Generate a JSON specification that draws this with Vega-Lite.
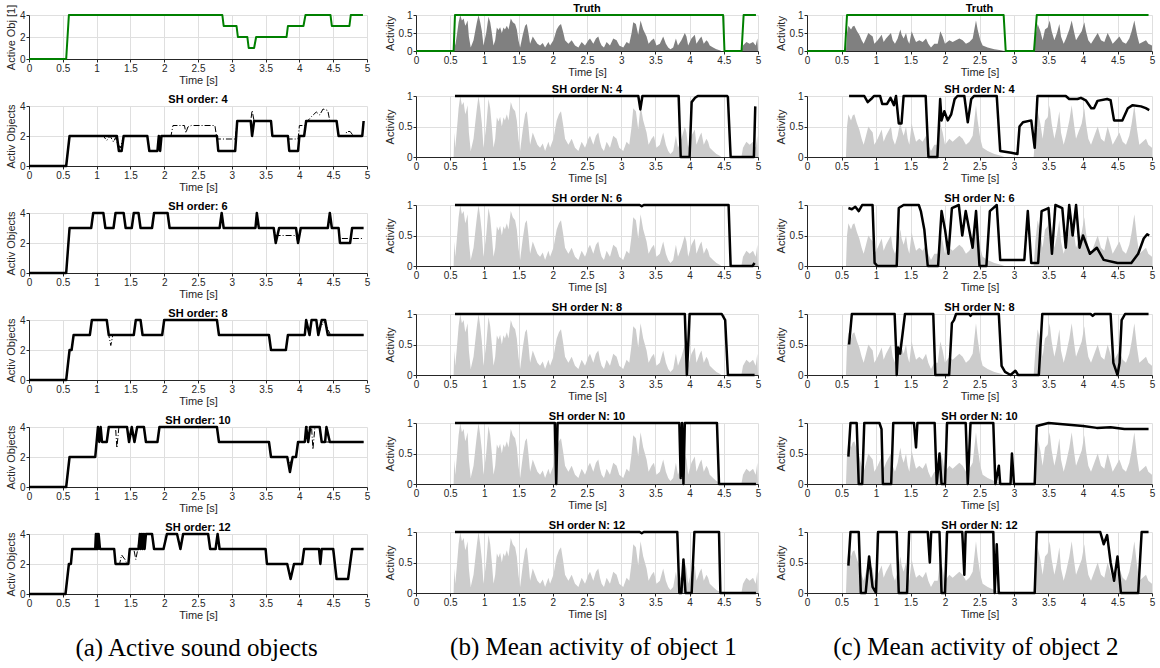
{
"$schema": "https://vega.github.io/schema/vega-lite/v6.json",
"padding": {"left": 5, "top": 3, "right": 4, "bottom": 4},
"background": "white",
"datasets": {
"env1": [{"t":0.55,"v":0},{"t":0.559,"v":0.4},{"t":0.574,"v":0.15},{"t":0.598,"v":0.45},{"t":0.623,"v":0.8},{"t":0.647,"v":1.0},{"t":0.671,"v":0.85},{"t":0.696,"v":0.9},{"t":0.72,"v":0.7},{"t":0.734,"v":0.75},{"t":0.754,"v":0.85},{"t":0.773,"v":0.4},{"t":0.8,"v":0.1},{"t":0.841,"v":0.3},{"t":0.87,"v":0.6},{"t":0.89,"v":0.8},{"t":0.914,"v":1.0},{"t":0.939,"v":0.8},{"t":0.963,"v":0.55},{"t":0.987,"v":0.15},{"t":1.026,"v":0.5},{"t":1.06,"v":0.95},{"t":1.085,"v":0.8},{"t":1.109,"v":0.5},{"t":1.133,"v":0.15},{"t":1.158,"v":0.3},{"t":1.182,"v":0.65},{"t":1.206,"v":0.58},{"t":1.23,"v":0.66},{"t":1.255,"v":0.5},{"t":1.279,"v":0.65},{"t":1.30,"v":0.6},{"t":1.328,"v":0.7},{"t":1.352,"v":0.6},{"t":1.386,"v":0.9},{"t":1.415,"v":0.8},{"t":1.449,"v":0.75},{"t":1.474,"v":0.6},{"t":1.498,"v":0.3},{"t":1.522,"v":0.1},{"t":1.561,"v":0.45},{"t":1.595,"v":0.7},{"t":1.62,"v":0.75},{"t":1.644,"v":0.5},{"t":1.668,"v":0.2},{"t":1.707,"v":0.4},{"t":1.741,"v":0.3},{"t":1.775,"v":0.2},{"t":1.814,"v":0.15},{"t":1.853,"v":0.22},{"t":1.887,"v":0.1},{"t":1.936,"v":0.25},{"t":1.96,"v":0.15},{"t":2.009,"v":0.3},{"t":2.057,"v":0.6},{"t":2.09,"v":0.7},{"t":2.12,"v":0.75},{"t":2.155,"v":0.5},{"t":2.179,"v":0.3},{"t":2.228,"v":0.2},{"t":2.276,"v":0.3},{"t":2.325,"v":0.15},{"t":2.374,"v":0.1},{"t":2.422,"v":0.25},{"t":2.471,"v":0.15},{"t":2.52,"v":0.3},{"t":2.544,"v":0.35},{"t":2.592,"v":0.2},{"t":2.631,"v":0.35},{"t":2.665,"v":0.4},{"t":2.69,"v":0.25},{"t":2.714,"v":0.15},{"t":2.748,"v":0.1},{"t":2.787,"v":0.25},{"t":2.836,"v":0.15},{"t":2.884,"v":0.35},{"t":2.933,"v":0.3},{"t":2.972,"v":0.15},{"t":3.03,"v":0.1},{"t":3.079,"v":0.25},{"t":3.118,"v":0.2},{"t":3.152,"v":0.5},{"t":3.176,"v":0.8},{"t":3.215,"v":0.75},{"t":3.249,"v":0.45},{"t":3.283,"v":0.85},{"t":3.322,"v":0.6},{"t":3.371,"v":0.4},{"t":3.4,"v":0.2},{"t":3.444,"v":0.3},{"t":3.478,"v":0.35},{"t":3.516,"v":0.15},{"t":3.565,"v":0.2},{"t":3.614,"v":0.4},{"t":3.653,"v":0.2},{"t":3.687,"v":0.1},{"t":3.72,"v":0.05},{"t":3.76,"v":0.1},{"t":3.80,"v":0.35},{"t":3.83,"v":0.15},{"t":3.88,"v":0.3},{"t":3.93,"v":0.5},{"t":3.954,"v":0.4},{"t":3.979,"v":0.15},{"t":4.027,"v":0.35},{"t":4.076,"v":0.45},{"t":4.1,"v":0.2},{"t":4.149,"v":0.35},{"t":4.173,"v":0.4},{"t":4.207,"v":0.2},{"t":4.246,"v":0.3},{"t":4.27,"v":0.25},{"t":4.295,"v":0.15},{"t":4.343,"v":0.1},{"t":4.392,"v":0.05},{"t":4.44,"v":0.02},{"t":4.465,"v":0},{"t":4.757,"v":0},{"t":4.781,"v":0.15},{"t":4.83,"v":0.25},{"t":4.878,"v":0.2},{"t":4.927,"v":0.25},{"t":4.966,"v":0.15},{"t":4.99,"v":0.35},{"t":5.0,"v":0}],
"env2": [{"t":0.565,"v":0},{"t":0.58,"v":0.5},{"t":0.6,"v":0.7},{"t":0.638,"v":0.6},{"t":0.662,"v":0.68},{"t":0.686,"v":0.7},{"t":0.725,"v":0.55},{"t":0.758,"v":0.45},{"t":0.792,"v":0.3},{"t":0.821,"v":0.2},{"t":0.855,"v":0.35},{"t":0.889,"v":0.5},{"t":0.918,"v":0.45},{"t":0.952,"v":0.4},{"t":0.976,"v":0.2},{"t":1.024,"v":0.3},{"t":1.082,"v":0.45},{"t":1.111,"v":0.25},{"t":1.145,"v":0.35},{"t":1.193,"v":0.45},{"t":1.217,"v":0.5},{"t":1.242,"v":0.3},{"t":1.275,"v":0.2},{"t":1.314,"v":0.35},{"t":1.353,"v":0.6},{"t":1.372,"v":0.45},{"t":1.401,"v":0.35},{"t":1.435,"v":0.5},{"t":1.459,"v":0.3},{"t":1.483,"v":0.2},{"t":1.517,"v":0.55},{"t":1.546,"v":0.4},{"t":1.58,"v":0.25},{"t":1.628,"v":0.3},{"t":1.676,"v":0.25},{"t":1.725,"v":0.35},{"t":1.758,"v":0.2},{"t":1.797,"v":0.1},{"t":1.845,"v":0.2},{"t":1.894,"v":0.2},{"t":1.932,"v":0.55},{"t":1.966,"v":0.4},{"t":2.0,"v":0.2},{"t":2.063,"v":0.3},{"t":2.111,"v":0.25},{"t":2.159,"v":0.3},{"t":2.208,"v":0.35},{"t":2.256,"v":0.3},{"t":2.304,"v":0.2},{"t":2.353,"v":0.25},{"t":2.401,"v":0.35},{"t":2.449,"v":0.85},{"t":2.473,"v":0.6},{"t":2.512,"v":0.3},{"t":2.546,"v":0.15},{"t":2.618,"v":0.1},{"t":2.715,"v":0.05},{"t":2.812,"v":0.02},{"t":2.86,"v":0},{"t":3.285,"v":0},{"t":3.31,"v":0.4},{"t":3.343,"v":0.75},{"t":3.382,"v":0.55},{"t":3.415,"v":0.3},{"t":3.449,"v":0.6},{"t":3.488,"v":0.65},{"t":3.517,"v":0.85},{"t":3.546,"v":0.55},{"t":3.585,"v":0.3},{"t":3.623,"v":0.5},{"t":3.657,"v":0.75},{"t":3.681,"v":0.4},{"t":3.72,"v":0.2},{"t":3.754,"v":0.35},{"t":3.802,"v":0.6},{"t":3.836,"v":0.85},{"t":3.874,"v":0.5},{"t":3.899,"v":0.3},{"t":3.932,"v":0.4},{"t":3.981,"v":0.55},{"t":4.019,"v":0.8},{"t":4.043,"v":0.55},{"t":4.077,"v":0.3},{"t":4.116,"v":0.2},{"t":4.164,"v":0.35},{"t":4.213,"v":0.5},{"t":4.261,"v":0.3},{"t":4.309,"v":0.25},{"t":4.357,"v":0.5},{"t":4.396,"v":0.35},{"t":4.43,"v":0.2},{"t":4.478,"v":0.3},{"t":4.527,"v":0.4},{"t":4.575,"v":0.25},{"t":4.623,"v":0.2},{"t":4.671,"v":0.35},{"t":4.705,"v":0.55},{"t":4.744,"v":0.85},{"t":4.783,"v":0.45},{"t":4.816,"v":0.2},{"t":4.865,"v":0.25},{"t":4.913,"v":0.3},{"t":4.947,"v":0.2},{"t":5.0,"v":0.15}],
"c_T": [{"t":0,"v":0},{"t":0.55,"v":0},{"t":0.59,"v":4},{"t":2.86,"v":4},{"t":2.88,"v":3},{"t":3.07,"v":3},{"t":3.09,"v":2},{"t":3.23,"v":2},{"t":3.25,"v":1},{"t":3.33,"v":1},{"t":3.36,"v":2},{"t":3.81,"v":2},{"t":3.83,"v":3},{"t":4.06,"v":3},{"t":4.09,"v":4},{"t":4.46,"v":4},{"t":4.48,"v":3},{"t":4.74,"v":3},{"t":4.76,"v":4},{"t":4.94,"v":4}],
"c_4e": [{"t":0,"v":0},{"t":0.55,"v":0},{"t":0.6,"v":2},{"t":1.3,"v":2},{"t":1.33,"v":1},{"t":1.37,"v":1},{"t":1.4,"v":2},{"t":1.75,"v":2},{"t":1.78,"v":1},{"t":1.9,"v":1},{"t":1.92,"v":2},{"t":1.94,"v":1},{"t":1.96,"v":2},{"t":2.78,"v":2},{"t":2.8,"v":1},{"t":3.05,"v":1},{"t":3.08,"v":3},{"t":3.28,"v":3},{"t":3.3,"v":2},{"t":3.33,"v":3},{"t":3.58,"v":3},{"t":3.6,"v":2},{"t":3.83,"v":2},{"t":3.85,"v":1},{"t":3.98,"v":1},{"t":4.0,"v":2},{"t":4.07,"v":2},{"t":4.1,"v":3},{"t":4.55,"v":3},{"t":4.58,"v":2},{"t":4.93,"v":2},{"t":4.95,"v":3}],
"c_4d": [{"t":0,"v":0},{"t":0.55,"v":0},{"t":0.6,"v":2},{"t":1.1,"v":2},{"t":1.15,"v":1.7},{"t":1.2,"v":2},{"t":1.25,"v":1.6},{"t":1.28,"v":1.9},{"t":1.3,"v":1.6},{"t":1.35,"v":1.2},{"t":1.4,"v":2},{"t":1.75,"v":2},{"t":1.78,"v":1},{"t":1.9,"v":1},{"t":1.93,"v":2},{"t":2.1,"v":2},{"t":2.13,"v":2.7},{"t":2.3,"v":2.7},{"t":2.32,"v":2.2},{"t":2.35,"v":2.6},{"t":2.4,"v":2.7},{"t":2.75,"v":2.7},{"t":2.78,"v":1.8},{"t":3.05,"v":1.8},{"t":3.08,"v":3},{"t":3.28,"v":3},{"t":3.3,"v":3.7},{"t":3.33,"v":3},{"t":3.58,"v":3},{"t":3.6,"v":2},{"t":3.8,"v":2},{"t":3.83,"v":1.8},{"t":3.98,"v":1.8},{"t":4.0,"v":2.7},{"t":4.08,"v":2.7},{"t":4.12,"v":3},{"t":4.18,"v":3.3},{"t":4.25,"v":3.6},{"t":4.3,"v":3.4},{"t":4.35,"v":3.8},{"t":4.42,"v":3.7},{"t":4.45,"v":3},{"t":4.55,"v":3},{"t":4.58,"v":2},{"t":4.68,"v":2},{"t":4.7,"v":2.3},{"t":4.75,"v":2.3},{"t":4.8,"v":2},{"t":4.93,"v":2},{"t":4.95,"v":3}],
"c_6e": [{"t":0,"v":0},{"t":0.55,"v":0},{"t":0.6,"v":3},{"t":0.92,"v":3},{"t":0.95,"v":4},{"t":1.1,"v":4},{"t":1.13,"v":3},{"t":1.25,"v":3},{"t":1.28,"v":4},{"t":1.4,"v":4},{"t":1.43,"v":3},{"t":1.52,"v":3},{"t":1.55,"v":4},{"t":1.62,"v":4},{"t":1.65,"v":3},{"t":1.82,"v":3},{"t":1.85,"v":4},{"t":2.05,"v":4},{"t":2.08,"v":3},{"t":2.82,"v":3},{"t":2.85,"v":4},{"t":2.88,"v":3},{"t":3.35,"v":3},{"t":3.37,"v":4},{"t":3.4,"v":3},{"t":3.62,"v":3},{"t":3.65,"v":2},{"t":3.7,"v":3},{"t":3.95,"v":3},{"t":3.98,"v":2},{"t":4.02,"v":3},{"t":4.42,"v":3},{"t":4.45,"v":4},{"t":4.48,"v":3},{"t":4.58,"v":3},{"t":4.6,"v":2},{"t":4.75,"v":2},{"t":4.78,"v":3},{"t":4.95,"v":3}],
"c_6d": [{"t":0,"v":0},{"t":0.55,"v":0},{"t":0.6,"v":3},{"t":0.92,"v":3},{"t":0.95,"v":4},{"t":1.1,"v":4},{"t":1.13,"v":3},{"t":1.25,"v":3},{"t":1.28,"v":4},{"t":1.4,"v":4},{"t":1.43,"v":3},{"t":1.52,"v":3},{"t":1.55,"v":4},{"t":1.62,"v":4},{"t":1.65,"v":3},{"t":1.82,"v":3},{"t":1.85,"v":4},{"t":2.05,"v":4},{"t":2.08,"v":3},{"t":2.82,"v":3},{"t":2.85,"v":4},{"t":2.88,"v":3},{"t":3.35,"v":3},{"t":3.37,"v":4},{"t":3.4,"v":3},{"t":3.62,"v":3},{"t":3.65,"v":2.5},{"t":3.95,"v":2.5},{"t":3.98,"v":2},{"t":4.02,"v":3},{"t":4.42,"v":3},{"t":4.45,"v":4},{"t":4.48,"v":3},{"t":4.58,"v":3},{"t":4.6,"v":2.3},{"t":4.95,"v":2.3}],
"c_8e": [{"t":0,"v":0},{"t":0.55,"v":0},{"t":0.6,"v":2},{"t":0.63,"v":2},{"t":0.66,"v":3},{"t":0.9,"v":3},{"t":0.93,"v":4},{"t":1.15,"v":4},{"t":1.18,"v":3},{"t":1.55,"v":3},{"t":1.58,"v":4},{"t":1.65,"v":4},{"t":1.68,"v":3},{"t":1.97,"v":3},{"t":2.0,"v":4},{"t":2.78,"v":4},{"t":2.81,"v":3},{"t":3.55,"v":3},{"t":3.58,"v":2},{"t":3.8,"v":2},{"t":3.83,"v":3},{"t":4.08,"v":3},{"t":4.1,"v":4},{"t":4.15,"v":3},{"t":4.18,"v":4},{"t":4.25,"v":4},{"t":4.28,"v":3},{"t":4.33,"v":4},{"t":4.38,"v":4},{"t":4.42,"v":3},{"t":4.95,"v":3}],
"c_8d": [{"t":0,"v":0},{"t":0.55,"v":0},{"t":0.6,"v":2},{"t":0.63,"v":2},{"t":0.66,"v":3},{"t":0.9,"v":3},{"t":0.93,"v":4},{"t":1.15,"v":4},{"t":1.18,"v":3},{"t":1.21,"v":2.3},{"t":1.24,"v":3},{"t":1.55,"v":3},{"t":1.58,"v":4},{"t":1.65,"v":4},{"t":1.68,"v":3},{"t":1.97,"v":3},{"t":2.0,"v":4},{"t":2.78,"v":4},{"t":2.81,"v":3},{"t":3.55,"v":3},{"t":3.58,"v":2},{"t":3.8,"v":2},{"t":3.83,"v":3},{"t":4.08,"v":3},{"t":4.1,"v":4},{"t":4.15,"v":3},{"t":4.18,"v":4},{"t":4.25,"v":4},{"t":4.28,"v":3},{"t":4.32,"v":3.6},{"t":4.38,"v":3.9},{"t":4.42,"v":3.4},{"t":4.46,"v":3},{"t":4.95,"v":3}],
"c_10e": [{"t":0,"v":0},{"t":0.55,"v":0},{"t":0.6,"v":2},{"t":0.98,"v":2},{"t":1.0,"v":3},{"t":1.02,"v":4},{"t":1.04,"v":3},{"t":1.06,"v":4},{"t":1.08,"v":3},{"t":1.15,"v":3},{"t":1.18,"v":4},{"t":1.45,"v":4},{"t":1.48,"v":3},{"t":1.52,"v":4},{"t":1.56,"v":3},{"t":1.6,"v":4},{"t":1.7,"v":4},{"t":1.73,"v":3},{"t":1.9,"v":3},{"t":1.93,"v":4},{"t":2.78,"v":4},{"t":2.81,"v":3},{"t":3.55,"v":3},{"t":3.58,"v":2},{"t":3.82,"v":2},{"t":3.86,"v":1},{"t":3.9,"v":2},{"t":3.95,"v":2},{"t":3.98,"v":3},{"t":4.08,"v":3},{"t":4.1,"v":4},{"t":4.13,"v":3},{"t":4.16,"v":4},{"t":4.3,"v":4},{"t":4.33,"v":3},{"t":4.38,"v":3},{"t":4.4,"v":4},{"t":4.45,"v":3},{"t":4.95,"v":3}],
"c_10d": [{"t":0,"v":0},{"t":0.55,"v":0},{"t":0.6,"v":2},{"t":0.98,"v":2},{"t":1.0,"v":3},{"t":1.02,"v":4},{"t":1.04,"v":3},{"t":1.06,"v":4},{"t":1.08,"v":3},{"t":1.15,"v":3},{"t":1.18,"v":4},{"t":1.28,"v":4},{"t":1.3,"v":2.6},{"t":1.33,"v":4},{"t":1.45,"v":4},{"t":1.48,"v":3},{"t":1.52,"v":4},{"t":1.56,"v":3},{"t":1.6,"v":4},{"t":1.7,"v":4},{"t":1.73,"v":3},{"t":1.9,"v":3},{"t":1.93,"v":4},{"t":2.78,"v":4},{"t":2.81,"v":3},{"t":3.55,"v":3},{"t":3.58,"v":2},{"t":3.82,"v":2},{"t":3.86,"v":1.5},{"t":3.9,"v":2},{"t":3.95,"v":2},{"t":3.98,"v":3},{"t":4.08,"v":3},{"t":4.1,"v":4},{"t":4.18,"v":4},{"t":4.2,"v":2.5},{"t":4.23,"v":4},{"t":4.3,"v":4},{"t":4.33,"v":3},{"t":4.95,"v":3}],
"c_12e": [{"t":0,"v":0},{"t":0.54,"v":0},{"t":0.59,"v":2},{"t":0.62,"v":2},{"t":0.64,"v":3},{"t":0.98,"v":3},{"t":0.99,"v":4},{"t":1.0,"v":3},{"t":1.01,"v":4},{"t":1.02,"v":3},{"t":1.03,"v":4},{"t":1.05,"v":3},{"t":1.26,"v":3},{"t":1.28,"v":2},{"t":1.47,"v":2},{"t":1.49,"v":3},{"t":1.62,"v":3},{"t":1.64,"v":4},{"t":1.65,"v":3},{"t":1.67,"v":4},{"t":1.68,"v":3},{"t":1.7,"v":4},{"t":1.71,"v":3},{"t":1.73,"v":4},{"t":1.82,"v":4},{"t":1.85,"v":3},{"t":1.99,"v":3},{"t":2.04,"v":4},{"t":2.19,"v":4},{"t":2.24,"v":3},{"t":2.28,"v":4},{"t":2.65,"v":4},{"t":2.68,"v":3},{"t":2.76,"v":3},{"t":2.79,"v":4},{"t":2.82,"v":3},{"t":3.5,"v":3},{"t":3.52,"v":2},{"t":3.82,"v":2},{"t":3.87,"v":1},{"t":3.92,"v":2},{"t":4.04,"v":2},{"t":4.07,"v":3},{"t":4.29,"v":3},{"t":4.31,"v":2},{"t":4.33,"v":3},{"t":4.5,"v":3},{"t":4.55,"v":1},{"t":4.72,"v":1},{"t":4.78,"v":3},{"t":4.95,"v":3}],
"c_12d": [{"t":0,"v":0},{"t":0.54,"v":0},{"t":0.59,"v":2},{"t":0.62,"v":2},{"t":0.64,"v":3},{"t":0.98,"v":3},{"t":1.05,"v":3},{"t":1.26,"v":3},{"t":1.28,"v":2},{"t":1.34,"v":2},{"t":1.37,"v":2.6},{"t":1.42,"v":2.3},{"t":1.45,"v":2},{"t":1.47,"v":2},{"t":1.49,"v":3},{"t":1.55,"v":3},{"t":1.58,"v":2.3},{"t":1.61,"v":3},{"t":1.64,"v":4},{"t":1.82,"v":4},{"t":1.85,"v":3},{"t":1.99,"v":3},{"t":2.04,"v":4},{"t":2.19,"v":4},{"t":2.24,"v":3},{"t":2.28,"v":4},{"t":2.65,"v":4},{"t":2.68,"v":3},{"t":3.5,"v":3},{"t":3.52,"v":2},{"t":3.82,"v":2},{"t":3.87,"v":1},{"t":3.92,"v":2},{"t":4.04,"v":2},{"t":4.07,"v":3},{"t":4.5,"v":3},{"t":4.55,"v":1},{"t":4.72,"v":1},{"t":4.78,"v":3},{"t":4.95,"v":3}],
"b_T": [{"t":0,"v":0},{"t":0.55,"v":0},{"t":0.57,"v":1},{"t":4.49,"v":1},{"t":4.51,"v":0},{"t":4.76,"v":0},{"t":4.79,"v":1},{"t":4.97,"v":1}],
"b_4": [{"t":0.57,"v":1},{"t":3.25,"v":1},{"t":3.28,"v":0.78},{"t":3.31,"v":1},{"t":3.84,"v":1},{"t":3.87,"v":0},{"t":4.0,"v":0},{"t":4.03,"v":0.9},{"t":4.08,"v":0.97},{"t":4.12,"v":1},{"t":4.55,"v":1},{"t":4.56,"v":0.98},{"t":4.6,"v":0},{"t":4.94,"v":0},{"t":4.96,"v":0.83}],
"b_6": [{"t":0.57,"v":1},{"t":3.27,"v":1},{"t":3.3,"v":0.98},{"t":3.33,"v":1},{"t":4.57,"v":1},{"t":4.6,"v":0},{"t":4.92,"v":0},{"t":4.95,"v":0.05}],
"b_8": [{"t":0.57,"v":1},{"t":3.93,"v":1},{"t":3.96,"v":0},{"t":4.0,"v":1},{"t":4.47,"v":1},{"t":4.52,"v":0.9},{"t":4.56,"v":0},{"t":4.95,"v":0}],
"b_10": [{"t":0.57,"v":1},{"t":2.03,"v":1},{"t":2.05,"v":0},{"t":2.07,"v":1},{"t":3.85,"v":1},{"t":3.87,"v":0.1},{"t":3.89,"v":1},{"t":3.91,"v":0},{"t":3.93,"v":1},{"t":4.4,"v":1},{"t":4.43,"v":0},{"t":4.97,"v":0}],
"b_12": [{"t":0.57,"v":1},{"t":3.27,"v":1},{"t":3.3,"v":0.98},{"t":3.33,"v":1},{"t":3.82,"v":1},{"t":3.85,"v":0},{"t":3.88,"v":0},{"t":3.91,"v":0.55},{"t":3.94,"v":0},{"t":4.03,"v":0},{"t":4.07,"v":1},{"t":4.43,"v":1},{"t":4.45,"v":0},{"t":4.97,"v":0}],
"o_T": [{"t":0,"v":0},{"t":0.55,"v":0},{"t":0.58,"v":1},{"t":2.85,"v":1},{"t":2.88,"v":0},{"t":3.29,"v":0},{"t":3.33,"v":1},{"t":4.95,"v":1}],
"o_4": [{"t":0.61,"v":1},{"t":0.83,"v":1},{"t":0.88,"v":0.9},{"t":0.93,"v":0.95},{"t":0.97,"v":1},{"t":1.06,"v":1},{"t":1.09,"v":0.87},{"t":1.16,"v":0.87},{"t":1.21,"v":0.97},{"t":1.26,"v":0.85},{"t":1.29,"v":1},{"t":1.33,"v":0.55},{"t":1.37,"v":0.55},{"t":1.4,"v":1},{"t":1.72,"v":1},{"t":1.76,"v":0},{"t":1.89,"v":0},{"t":1.93,"v":0.95},{"t":1.95,"v":0.6},{"t":1.99,"v":0.75},{"t":2.04,"v":0.6},{"t":2.09,"v":0.7},{"t":2.14,"v":0.95},{"t":2.18,"v":1},{"t":2.28,"v":1},{"t":2.33,"v":0.57},{"t":2.38,"v":0.95},{"t":2.42,"v":1},{"t":2.75,"v":1},{"t":2.8,"v":0.1},{"t":2.96,"v":0.07},{"t":3.05,"v":0.05},{"t":3.08,"v":0.5},{"t":3.13,"v":0.57},{"t":3.25,"v":0.6},{"t":3.3,"v":0.15},{"t":3.34,"v":1},{"t":3.75,"v":1},{"t":3.8,"v":0.95},{"t":3.92,"v":0.95},{"t":3.97,"v":0.97},{"t":4.04,"v":0.93},{"t":4.12,"v":0.8},{"t":4.16,"v":0.8},{"t":4.21,"v":0.92},{"t":4.35,"v":0.95},{"t":4.4,"v":0.93},{"t":4.45,"v":0.6},{"t":4.57,"v":0.6},{"t":4.65,"v":0.8},{"t":4.72,"v":0.85},{"t":4.84,"v":0.83},{"t":4.91,"v":0.8},{"t":4.96,"v":0.77}],
"o_6": [{"t":0.6,"v":0.95},{"t":0.65,"v":0.93},{"t":0.7,"v":0.97},{"t":0.75,"v":0.9},{"t":0.8,"v":1},{"t":0.95,"v":1},{"t":0.98,"v":0.05},{"t":1.02,"v":0},{"t":1.3,"v":0},{"t":1.33,"v":0.95},{"t":1.4,"v":1},{"t":1.62,"v":1},{"t":1.65,"v":0.9},{"t":1.7,"v":0.6},{"t":1.75,"v":0},{"t":1.9,"v":0},{"t":1.95,"v":0.9},{"t":2.0,"v":0.6},{"t":2.05,"v":0.2},{"t":2.1,"v":0.95},{"t":2.2,"v":1},{"t":2.25,"v":0.5},{"t":2.3,"v":0.9},{"t":2.4,"v":0.3},{"t":2.45,"v":0.9},{"t":2.5,"v":0},{"t":2.6,"v":0},{"t":2.65,"v":0.9},{"t":2.75,"v":1},{"t":2.8,"v":0.1},{"t":3.15,"v":0.1},{"t":3.2,"v":0.9},{"t":3.25,"v":0.05},{"t":3.35,"v":0.05},{"t":3.4,"v":0.9},{"t":3.5,"v":0.95},{"t":3.55,"v":0.2},{"t":3.6,"v":1},{"t":3.7,"v":0.95},{"t":3.75,"v":0.3},{"t":3.8,"v":1},{"t":3.85,"v":0.5},{"t":3.9,"v":1},{"t":3.95,"v":0.3},{"t":4.0,"v":0.5},{"t":4.1,"v":0.2},{"t":4.2,"v":0.3},{"t":4.3,"v":0.1},{"t":4.5,"v":0.05},{"t":4.7,"v":0.05},{"t":4.8,"v":0.2},{"t":4.88,"v":0.45},{"t":4.93,"v":0.52},{"t":4.96,"v":0.5}],
"o_8": [{"t":0.61,"v":0.5},{"t":0.65,"v":1},{"t":1.27,"v":1},{"t":1.29,"v":0.45},{"t":1.3,"v":0},{"t":1.32,"v":0.45},{"t":1.35,"v":0.35},{"t":1.42,"v":1},{"t":1.83,"v":1},{"t":1.86,"v":0},{"t":2.06,"v":0},{"t":2.1,"v":0.85},{"t":2.13,"v":0.9},{"t":2.16,"v":1},{"t":2.35,"v":1},{"t":2.37,"v":0.97},{"t":2.39,"v":1},{"t":2.78,"v":1},{"t":2.82,"v":0.15},{"t":2.87,"v":0.05},{"t":2.95,"v":0},{"t":3.02,"v":0.07},{"t":3.06,"v":0},{"t":3.36,"v":0},{"t":3.41,"v":1},{"t":4.11,"v":1},{"t":4.14,"v":0.97},{"t":4.17,"v":1},{"t":4.4,"v":1},{"t":4.44,"v":0.2},{"t":4.47,"v":0.1},{"t":4.5,"v":0},{"t":4.53,"v":0.2},{"t":4.56,"v":0.9},{"t":4.61,"v":1},{"t":4.95,"v":1}],
"o_10": [{"t":0.6,"v":0.45},{"t":0.63,"v":1},{"t":0.72,"v":1},{"t":0.75,"v":0},{"t":0.8,"v":0},{"t":0.83,"v":1},{"t":1.05,"v":1},{"t":1.08,"v":0.9},{"t":1.1,"v":0},{"t":1.22,"v":0},{"t":1.25,"v":1},{"t":1.55,"v":1},{"t":1.58,"v":0.6},{"t":1.6,"v":1},{"t":1.85,"v":1},{"t":1.88,"v":0},{"t":1.92,"v":0.5},{"t":1.95,"v":0},{"t":2.0,"v":0},{"t":2.03,"v":1},{"t":2.3,"v":1},{"t":2.33,"v":0},{"t":2.37,"v":1},{"t":2.7,"v":1},{"t":2.73,"v":0},{"t":2.78,"v":0.3},{"t":2.8,"v":0},{"t":2.95,"v":0},{"t":2.97,"v":0.5},{"t":3.0,"v":0},{"t":3.3,"v":0},{"t":3.33,"v":0.95},{"t":3.5,"v":1},{"t":4.0,"v":0.95},{"t":4.2,"v":0.92},{"t":4.4,"v":0.93},{"t":4.6,"v":0.9},{"t":4.95,"v":0.9}],
"o_12": [{"t":0.6,"v":0.45},{"t":0.63,"v":1},{"t":0.75,"v":1},{"t":0.78,"v":0},{"t":0.85,"v":0},{"t":0.9,"v":0.6},{"t":0.95,"v":0.1},{"t":1.0,"v":0},{"t":1.03,"v":1},{"t":1.3,"v":1},{"t":1.33,"v":0},{"t":1.45,"v":0},{"t":1.48,"v":1},{"t":1.75,"v":1},{"t":1.78,"v":0.5},{"t":1.8,"v":1},{"t":1.92,"v":1},{"t":1.95,"v":0},{"t":2.0,"v":0},{"t":2.03,"v":1},{"t":2.25,"v":1},{"t":2.28,"v":0.3},{"t":2.3,"v":1},{"t":2.7,"v":1},{"t":2.72,"v":0},{"t":2.75,"v":0.8},{"t":2.78,"v":0},{"t":3.3,"v":0},{"t":3.33,"v":1},{"t":4.25,"v":1},{"t":4.3,"v":0.8},{"t":4.35,"v":0.95},{"t":4.4,"v":0.5},{"t":4.45,"v":0.2},{"t":4.5,"v":0.6},{"t":4.55,"v":0},{"t":4.8,"v":0},{"t":4.85,"v":1},{"t":4.95,"v":1}]
},
"hconcat": [
{"vconcat": [
  {"width": 338, "height": 44, "data": {"name": "c_T"}, "mark": {"type": "line", "color": "#008000", "strokeWidth": 2},
   "encoding": {"x": {"field": "t", "type": "quantitative", "scale": {"domain": [0,5]}, "axis": {"values": [0,0.5,1,1.5,2,2.5,3,3.5,4,4.5,5], "format": "~g", "title": "Time [s]"}},
                "y": {"field": "v", "type": "quantitative", "scale": {"domain": [0,4]}, "axis": {"values": [0,2,4], "title": "Active Obj [1]"}}}},
  {"vconcat": [
    {"width": 338, "height": 60, "title": "SH order: 4",
     "encoding": {"x": {"field": "t", "type": "quantitative", "scale": {"domain": [0,5]}, "axis": {"values": [0,0.5,1,1.5,2,2.5,3,3.5,4,4.5,5], "format": "~g", "title": "Time [s]"}},
                  "y": {"field": "v", "type": "quantitative", "scale": {"domain": [0,4]}, "axis": {"values": [0,2,4], "title": "Activ Objects"}}},
     "layer": [{"data": {"name": "c_4d"}, "mark": {"type": "line", "color": "black", "strokeWidth": 1, "strokeDash": [6,2,1,2]}},
               {"data": {"name": "c_4e"}, "mark": {"type": "line", "color": "black", "strokeWidth": 2.5}}]},
    {"width": 338, "height": 60, "title": "SH order: 6",
     "encoding": {"x": {"field": "t", "type": "quantitative", "scale": {"domain": [0,5]}, "axis": {"values": [0,0.5,1,1.5,2,2.5,3,3.5,4,4.5,5], "format": "~g", "title": "Time [s]"}},
                  "y": {"field": "v", "type": "quantitative", "scale": {"domain": [0,4]}, "axis": {"values": [0,2,4], "title": "Activ Objects"}}},
     "layer": [{"data": {"name": "c_6d"}, "mark": {"type": "line", "color": "black", "strokeWidth": 1, "strokeDash": [6,2,1,2]}},
               {"data": {"name": "c_6e"}, "mark": {"type": "line", "color": "black", "strokeWidth": 2.5}}]},
    {"width": 338, "height": 60, "title": "SH order: 8",
     "encoding": {"x": {"field": "t", "type": "quantitative", "scale": {"domain": [0,5]}, "axis": {"values": [0,0.5,1,1.5,2,2.5,3,3.5,4,4.5,5], "format": "~g", "title": "Time [s]"}},
                  "y": {"field": "v", "type": "quantitative", "scale": {"domain": [0,4]}, "axis": {"values": [0,2,4], "title": "Activ Objects"}}},
     "layer": [{"data": {"name": "c_8d"}, "mark": {"type": "line", "color": "black", "strokeWidth": 1, "strokeDash": [6,2,1,2]}},
               {"data": {"name": "c_8e"}, "mark": {"type": "line", "color": "black", "strokeWidth": 2.5}}]},
    {"width": 338, "height": 60, "title": "SH order: 10",
     "encoding": {"x": {"field": "t", "type": "quantitative", "scale": {"domain": [0,5]}, "axis": {"values": [0,0.5,1,1.5,2,2.5,3,3.5,4,4.5,5], "format": "~g", "title": "Time [s]"}},
                  "y": {"field": "v", "type": "quantitative", "scale": {"domain": [0,4]}, "axis": {"values": [0,2,4], "title": "Activ Objects"}}},
     "layer": [{"data": {"name": "c_10d"}, "mark": {"type": "line", "color": "black", "strokeWidth": 1, "strokeDash": [6,2,1,2]}},
               {"data": {"name": "c_10e"}, "mark": {"type": "line", "color": "black", "strokeWidth": 2.5}}]},
    {"width": 338, "height": 60, "title": "SH order: 12",
     "encoding": {"x": {"field": "t", "type": "quantitative", "scale": {"domain": [0,5]}, "axis": {"values": [0,0.5,1,1.5,2,2.5,3,3.5,4,4.5,5], "format": "~g", "title": "Time [s]"}},
                  "y": {"field": "v", "type": "quantitative", "scale": {"domain": [0,4]}, "axis": {"values": [0,2,4], "title": "Activ Objects"}}},
     "layer": [{"data": {"name": "c_12d"}, "mark": {"type": "line", "color": "black", "strokeWidth": 1, "strokeDash": [6,2,1,2]}},
               {"data": {"name": "c_12e"}, "mark": {"type": "line", "color": "black", "strokeWidth": 2.5}}]}
  ], "spacing": 47, "bounds": "flush"}
 ], "spacing": 9,
 "title": {"text": "(a) Active sound objects", "orient": "bottom", "anchor": "middle", "frame": "bounds", "dx": 9, "font": "Liberation Serif", "fontSize": 25, "fontWeight": "normal", "offset": 16, "color": "black"}},
{"vconcat": [
  {"width": 342, "height": 36, "title": "Truth",
   "encoding": {"x": {"field": "t", "type": "quantitative", "scale": {"domain": [0,5]}, "axis": {"values": [0,0.5,1,1.5,2,2.5,3,3.5,4,4.5,5], "format": "~g", "title": "Time [s]"}},
                "y": {"field": "v", "type": "quantitative", "scale": {"domain": [0,1]}, "axis": {"values": [0,0.5,1], "format": "~g", "title": "Activity"}}},
   "layer": [{"data": {"name": "env1"}, "mark": {"type": "area", "color": "#808080"}},
             {"data": {"name": "b_T"}, "mark": {"type": "line", "color": "#008000", "strokeWidth": 2}}]},
  {"vconcat": [
    {"width": 342, "height": 61, "title": "SH order N: 4",
     "encoding": {"x": {"field": "t", "type": "quantitative", "scale": {"domain": [0,5]}, "axis": {"values": [0,0.5,1,1.5,2,2.5,3,3.5,4,4.5,5], "format": "~g", "title": "Time [s]"}},
                  "y": {"field": "v", "type": "quantitative", "scale": {"domain": [0,1]}, "axis": {"values": [0,0.5,1], "format": "~g", "title": "Activity"}}},
     "layer": [{"data": {"name": "env1"}, "mark": {"type": "area", "color": "#cccccc"}},
               {"data": {"name": "b_4"}, "mark": {"type": "line", "color": "black", "strokeWidth": 2.5}}]},
    {"width": 342, "height": 61, "title": "SH order N: 6",
     "encoding": {"x": {"field": "t", "type": "quantitative", "scale": {"domain": [0,5]}, "axis": {"values": [0,0.5,1,1.5,2,2.5,3,3.5,4,4.5,5], "format": "~g", "title": "Time [s]"}},
                  "y": {"field": "v", "type": "quantitative", "scale": {"domain": [0,1]}, "axis": {"values": [0,0.5,1], "format": "~g", "title": "Activity"}}},
     "layer": [{"data": {"name": "env1"}, "mark": {"type": "area", "color": "#cccccc"}},
               {"data": {"name": "b_6"}, "mark": {"type": "line", "color": "black", "strokeWidth": 2.5}}]},
    {"width": 342, "height": 61, "title": "SH order N: 8",
     "encoding": {"x": {"field": "t", "type": "quantitative", "scale": {"domain": [0,5]}, "axis": {"values": [0,0.5,1,1.5,2,2.5,3,3.5,4,4.5,5], "format": "~g", "title": "Time [s]"}},
                  "y": {"field": "v", "type": "quantitative", "scale": {"domain": [0,1]}, "axis": {"values": [0,0.5,1], "format": "~g", "title": "Activity"}}},
     "layer": [{"data": {"name": "env1"}, "mark": {"type": "area", "color": "#cccccc"}},
               {"data": {"name": "b_8"}, "mark": {"type": "line", "color": "black", "strokeWidth": 2.5}}]},
    {"width": 342, "height": 61, "title": "SH order N: 10",
     "encoding": {"x": {"field": "t", "type": "quantitative", "scale": {"domain": [0,5]}, "axis": {"values": [0,0.5,1,1.5,2,2.5,3,3.5,4,4.5,5], "format": "~g", "title": "Time [s]"}},
                  "y": {"field": "v", "type": "quantitative", "scale": {"domain": [0,1]}, "axis": {"values": [0,0.5,1], "format": "~g", "title": "Activity"}}},
     "layer": [{"data": {"name": "env1"}, "mark": {"type": "area", "color": "#cccccc"}},
               {"data": {"name": "b_10"}, "mark": {"type": "line", "color": "black", "strokeWidth": 2.5}}]},
    {"width": 342, "height": 61, "title": "SH order N: 12",
     "encoding": {"x": {"field": "t", "type": "quantitative", "scale": {"domain": [0,5]}, "axis": {"values": [0,0.5,1,1.5,2,2.5,3,3.5,4,4.5,5], "format": "~g", "title": "Time [s]"}},
                  "y": {"field": "v", "type": "quantitative", "scale": {"domain": [0,1]}, "axis": {"values": [0,0.5,1], "format": "~g", "title": "Activity"}}},
     "layer": [{"data": {"name": "env1"}, "mark": {"type": "area", "color": "#cccccc"}},
               {"data": {"name": "b_12"}, "mark": {"type": "line", "color": "black", "strokeWidth": 2.5}}]}
  ], "spacing": 48, "bounds": "flush"}
 ], "spacing": 7,
 "title": {"text": "(b) Mean activity of object 1", "orient": "bottom", "anchor": "middle", "frame": "bounds", "dx": 21, "font": "Liberation Serif", "fontSize": 25, "fontWeight": "normal", "offset": 16, "color": "black"}},
{"vconcat": [
  {"width": 345, "height": 36, "title": "Truth",
   "encoding": {"x": {"field": "t", "type": "quantitative", "scale": {"domain": [0,5]}, "axis": {"values": [0,0.5,1,1.5,2,2.5,3,3.5,4,4.5,5], "format": "~g", "title": "Time [s]"}},
                "y": {"field": "v", "type": "quantitative", "scale": {"domain": [0,1]}, "axis": {"values": [0,0.5,1], "format": "~g", "title": "Activity"}}},
   "layer": [{"data": {"name": "env2"}, "mark": {"type": "area", "color": "#808080"}},
             {"data": {"name": "o_T"}, "mark": {"type": "line", "color": "#008000", "strokeWidth": 2}}]},
  {"vconcat": [
    {"width": 345, "height": 61, "title": "SH order N: 4",
     "encoding": {"x": {"field": "t", "type": "quantitative", "scale": {"domain": [0,5]}, "axis": {"values": [0,0.5,1,1.5,2,2.5,3,3.5,4,4.5,5], "format": "~g", "title": "Time [s]"}},
                  "y": {"field": "v", "type": "quantitative", "scale": {"domain": [0,1]}, "axis": {"values": [0,0.5,1], "format": "~g", "title": "Activity"}}},
     "layer": [{"data": {"name": "env2"}, "mark": {"type": "area", "color": "#cccccc"}},
               {"data": {"name": "o_4"}, "mark": {"type": "line", "color": "black", "strokeWidth": 2.5}}]},
    {"width": 345, "height": 61, "title": "SH order N: 6",
     "encoding": {"x": {"field": "t", "type": "quantitative", "scale": {"domain": [0,5]}, "axis": {"values": [0,0.5,1,1.5,2,2.5,3,3.5,4,4.5,5], "format": "~g", "title": "Time [s]"}},
                  "y": {"field": "v", "type": "quantitative", "scale": {"domain": [0,1]}, "axis": {"values": [0,0.5,1], "format": "~g", "title": "Activity"}}},
     "layer": [{"data": {"name": "env2"}, "mark": {"type": "area", "color": "#cccccc"}},
               {"data": {"name": "o_6"}, "mark": {"type": "line", "color": "black", "strokeWidth": 2.5}}]},
    {"width": 345, "height": 61, "title": "SH order N: 8",
     "encoding": {"x": {"field": "t", "type": "quantitative", "scale": {"domain": [0,5]}, "axis": {"values": [0,0.5,1,1.5,2,2.5,3,3.5,4,4.5,5], "format": "~g", "title": "Time [s]"}},
                  "y": {"field": "v", "type": "quantitative", "scale": {"domain": [0,1]}, "axis": {"values": [0,0.5,1], "format": "~g", "title": "Activity"}}},
     "layer": [{"data": {"name": "env2"}, "mark": {"type": "area", "color": "#cccccc"}},
               {"data": {"name": "o_8"}, "mark": {"type": "line", "color": "black", "strokeWidth": 2.5}}]},
    {"width": 345, "height": 61, "title": "SH order N: 10",
     "encoding": {"x": {"field": "t", "type": "quantitative", "scale": {"domain": [0,5]}, "axis": {"values": [0,0.5,1,1.5,2,2.5,3,3.5,4,4.5,5], "format": "~g", "title": "Time [s]"}},
                  "y": {"field": "v", "type": "quantitative", "scale": {"domain": [0,1]}, "axis": {"values": [0,0.5,1], "format": "~g", "title": "Activity"}}},
     "layer": [{"data": {"name": "env2"}, "mark": {"type": "area", "color": "#cccccc"}},
               {"data": {"name": "o_10"}, "mark": {"type": "line", "color": "black", "strokeWidth": 2.5}}]},
    {"width": 345, "height": 61, "title": "SH order N: 12",
     "encoding": {"x": {"field": "t", "type": "quantitative", "scale": {"domain": [0,5]}, "axis": {"values": [0,0.5,1,1.5,2,2.5,3,3.5,4,4.5,5], "format": "~g", "title": "Time [s]"}},
                  "y": {"field": "v", "type": "quantitative", "scale": {"domain": [0,1]}, "axis": {"values": [0,0.5,1], "format": "~g", "title": "Activity"}}},
     "layer": [{"data": {"name": "env2"}, "mark": {"type": "area", "color": "#cccccc"}},
               {"data": {"name": "o_12"}, "mark": {"type": "line", "color": "black", "strokeWidth": 2.5}}]}
  ], "spacing": 48, "bounds": "flush"}
 ], "spacing": 7,
 "title": {"text": "(c) Mean activity of object 2", "orient": "bottom", "anchor": "middle", "frame": "bounds", "dx": 11, "font": "Liberation Serif", "fontSize": 25, "fontWeight": "normal", "offset": 16, "color": "black"}}
],
"spacing": 14,
"config": {
  "font": "Liberation Sans",
  "view": {"stroke": null},
  "axis": {"labelFont": "Liberation Sans", "labelFontSize": 10, "labelColor": "#262626", "titleFont": "Liberation Sans", "titleFontSize": 11, "titleFontWeight": "normal", "titleColor": "#262626", "gridColor": "#dfdfdf", "domainColor": "#262626", "tickColor": "#262626", "tickSize": 3, "labelPadding": 1, "titlePadding": 2},
  "axisX": {"labelAngle": 0, "labelFlush": false, "titlePadding": 1},
  "axisY": {"titlePadding": 3},
  "title": {"font": "Liberation Sans", "fontSize": 11, "fontWeight": "bold", "color": "black", "offset": -4},
  "line": {"strokeJoin": "round"}
}
}
